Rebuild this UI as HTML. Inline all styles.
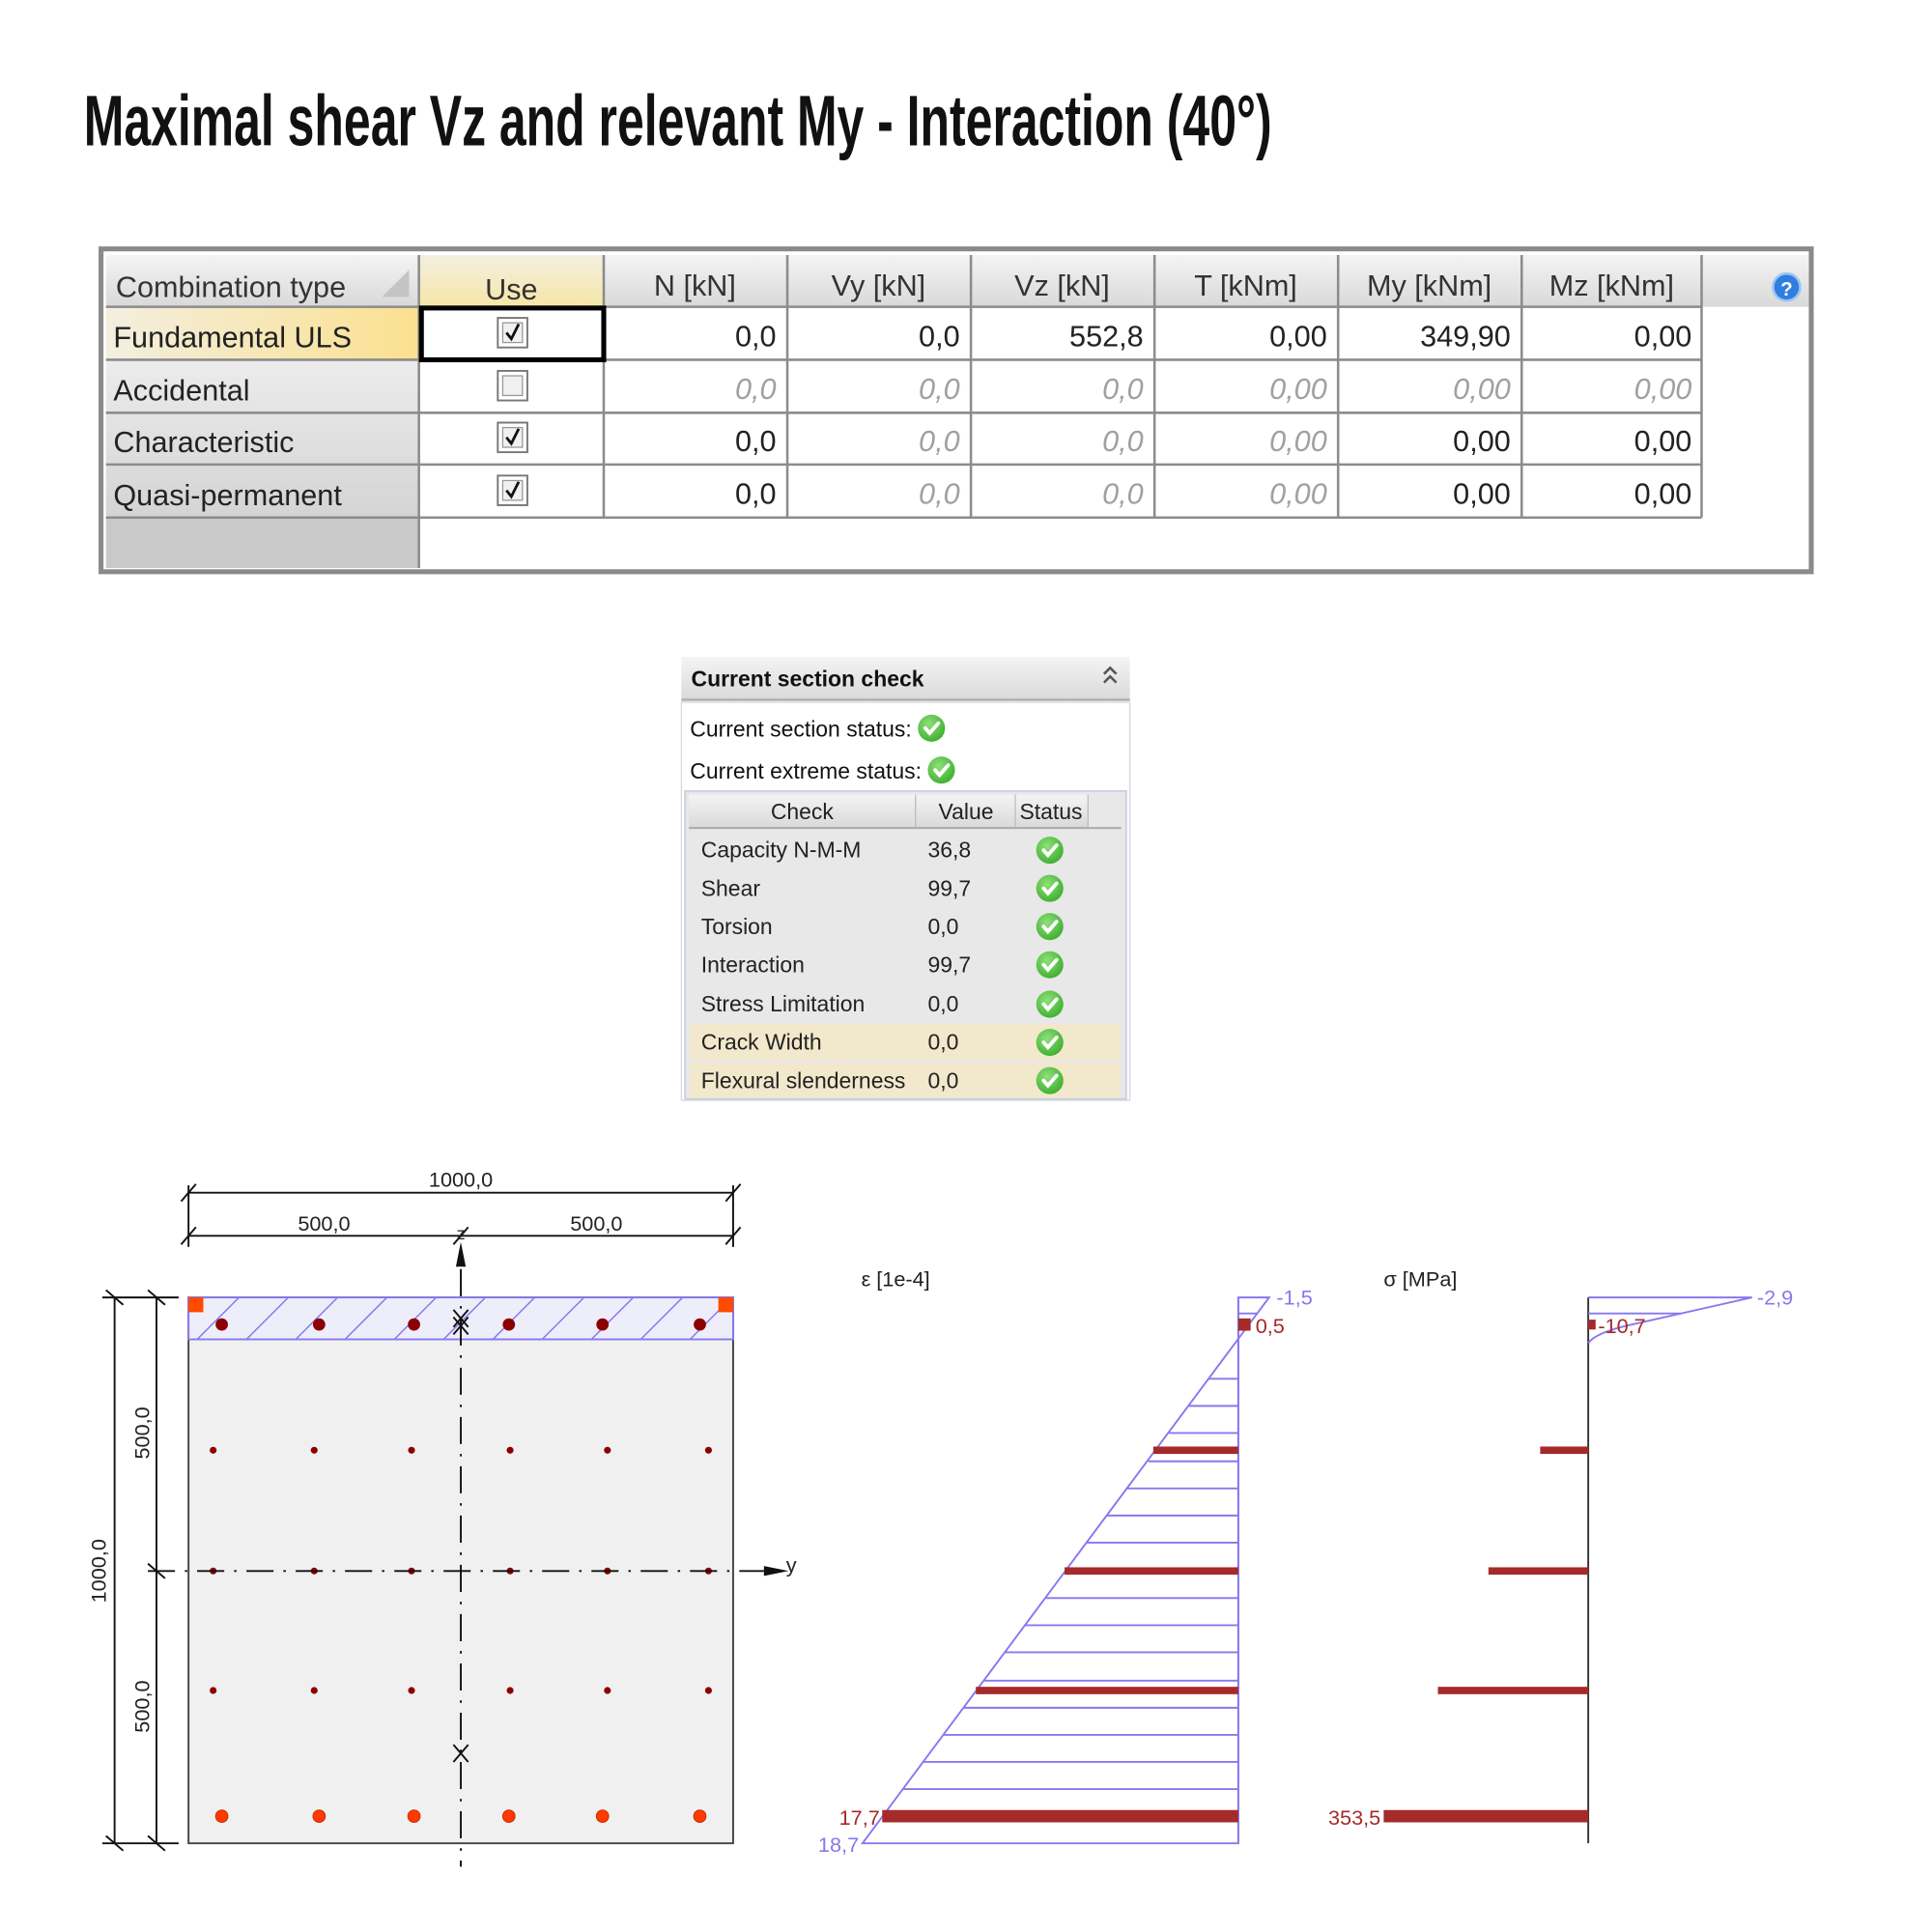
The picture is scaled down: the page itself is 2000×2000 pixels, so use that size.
<!DOCTYPE html>
<html><head><meta charset="utf-8"><style>
html,body{margin:0;padding:0;background:#fff}
svg{display:block}
</style></head><body>
<svg width="2000" height="2000" viewBox="0 0 1568 1568" xmlns="http://www.w3.org/2000/svg" font-family="Liberation Sans, sans-serif">
<defs>
<linearGradient id="hg" x1="0" y1="0" x2="0" y2="1"><stop offset="0" stop-color="#f4f4f4"/><stop offset="1" stop-color="#d9d9d9"/></linearGradient>
<linearGradient id="lg" x1="0" y1="0" x2="0" y2="1"><stop offset="0" stop-color="#ececec"/><stop offset="1" stop-color="#d4d4d4"/></linearGradient>
<linearGradient id="yg" x1="0" y1="0" x2="1" y2="0"><stop offset="0" stop-color="#f3efe0"/><stop offset="1" stop-color="#fbe08f"/></linearGradient>
<linearGradient id="ug" x1="0" y1="0" x2="0" y2="1"><stop offset="0" stop-color="#f3efe0"/><stop offset="1" stop-color="#f6e6a8"/></linearGradient>
<radialGradient id="gc" cx="0.4" cy="0.35" r="0.7"><stop offset="0" stop-color="#8fe07a"/><stop offset="1" stop-color="#3cae2e"/></radialGradient>
<g id="ok"><circle r="11" fill="url(#gc)"/><path d="M-5,0 L-1.5,4 L5.5,-4" stroke="#fff" stroke-width="3" fill="none" stroke-linecap="round"/></g>
<g id="cb"><rect x="-12" y="-12" width="24" height="24" fill="#fff" stroke="#777" stroke-width="1.5"/><rect x="-8" y="-8" width="16" height="16" fill="#f0f0f0" stroke="#999" stroke-width="1"/></g>
<g id="ck"><use href="#cb"/><path d="M-5,0 L-1,5 L5,-7" stroke="#111" stroke-width="2.2" fill="none"/></g>
</defs>

<text x="68" y="118" font-size="58" font-weight="bold" transform="translate(68,0) scale(0.675,1) translate(-68,0)" fill="#111">Maximal shear Vz and relevant My - Interaction (40°)</text>

<rect x="82" y="202" width="1388" height="262" fill="#fff" stroke="#8a8a8a" stroke-width="4"/>
<rect x="86" y="207" width="1295" height="42" fill="url(#hg)"/>
<rect x="1381" y="207" width="87" height="42" fill="url(#hg)"/>
<rect x="340" y="207" width="150" height="42" fill="url(#ug)"/>
<rect x="86" y="249" width="254" height="43" fill="url(#yg)"/>
<rect x="86" y="292" width="254" height="128" fill="url(#lg)"/>
<rect x="86" y="420" width="254" height="41" fill="#c9c9c9"/>
<path d="M310,241 L332,241 L332,219 Z" fill="#c4c4c4"/>
<g stroke="#8c8c8c" stroke-width="2" fill="none">
<line x1="86" y1="249" x2="1381" y2="249"/>
<line x1="86" y1="292" x2="1381" y2="292"/>
<line x1="86" y1="335" x2="1381" y2="335"/>
<line x1="86" y1="377" x2="1381" y2="377"/>
<line x1="86" y1="420" x2="1381" y2="420"/>
<line x1="340" y1="207" x2="340" y2="461"/>
<line x1="490" y1="207" x2="490" y2="420"/>
<line x1="639" y1="207" x2="639" y2="420"/>
<line x1="788" y1="207" x2="788" y2="420"/>
<line x1="937" y1="207" x2="937" y2="420"/>
<line x1="1086" y1="207" x2="1086" y2="420"/>
<line x1="1235" y1="207" x2="1235" y2="420"/>
<line x1="1381" y1="207" x2="1381" y2="420"/>
</g>
<rect x="342" y="250" width="148" height="42" fill="none" stroke="#000" stroke-width="4"/>
<circle cx="1450" cy="233" r="11" fill="#2f7ee0" stroke="#9cc4f2" stroke-width="2"/>
<text x="1450" y="240" font-size="16" font-weight="bold" fill="#fff" text-anchor="middle">?</text>
<g font-size="24" fill="#333">
<text x="94" y="241">Combination type</text>
<text x="415" y="243" text-anchor="middle">Use</text>
<text x="564" y="240" text-anchor="middle">N [kN]</text>
<text x="713" y="240" text-anchor="middle">Vy [kN]</text>
<text x="862" y="240" text-anchor="middle">Vz [kN]</text>
<text x="1011" y="240" text-anchor="middle">T [kNm]</text>
<text x="1160" y="240" text-anchor="middle">My [kNm]</text>
<text x="1308" y="240" text-anchor="middle">Mz [kNm]</text>
</g>
<g font-size="24" fill="#222">
<text x="92" y="282">Fundamental ULS</text>
<text x="92" y="325">Accidental</text>
<text x="92" y="367">Characteristic</text>
<text x="92" y="410">Quasi-permanent</text>
</g>
<use href="#ck" x="416" y="270"/>
<use href="#cb" x="416" y="313"/>
<use href="#ck" x="416" y="355"/>
<use href="#ck" x="416" y="398"/>
<g font-size="24" text-anchor="end" fill="#222">
<text x="630" y="281">0,0</text><text x="779" y="281">0,0</text><text x="928" y="281">552,8</text><text x="1077" y="281">0,00</text><text x="1226" y="281">349,90</text><text x="1373" y="281">0,00</text>
<text x="630" y="366">0,0</text><text x="1226" y="366">0,00</text><text x="1373" y="366">0,00</text>
<text x="630" y="409">0,0</text><text x="1226" y="409">0,00</text><text x="1373" y="409">0,00</text>
</g>
<g font-size="24" text-anchor="end" fill="#a0a0a0" font-style="italic">
<text x="630" y="324">0,0</text><text x="779" y="324">0,0</text><text x="928" y="324">0,0</text><text x="1077" y="324">0,00</text><text x="1226" y="324">0,00</text><text x="1373" y="324">0,00</text>
<text x="779" y="366">0,0</text><text x="928" y="366">0,0</text><text x="1077" y="366">0,00</text>
<text x="779" y="409">0,0</text><text x="928" y="409">0,0</text><text x="1077" y="409">0,00</text>
</g>

<rect x="553" y="533" width="364" height="35" fill="url(#hg)"/>
<line x1="553" y1="568" x2="917" y2="568" stroke="#b0b0b0" stroke-width="2"/>
<text x="561" y="557" font-size="18" font-weight="bold" fill="#111">Current section check</text>
<path d="M896,547 L901,542 L906,547 M896,554 L901,549 L906,554" stroke="#555" stroke-width="2" fill="none"/>
<rect x="553" y="570" width="364" height="323" fill="#fff" stroke="#d8d8d8" stroke-width="1"/>
<text x="560" y="598" font-size="18" fill="#111">Current section status:</text>
<use href="#ok" x="756" y="591"/>
<text x="560" y="632" font-size="18" fill="#111">Current extreme status:</text>
<use href="#ok" x="764" y="625"/>
<rect x="556" y="642" width="358" height="250" fill="#e8e8e8" stroke="#c8d2e0" stroke-width="1.5"/>
<rect x="559" y="645" width="324" height="27" fill="url(#hg)"/>
<line x1="559" y1="672" x2="910" y2="672" stroke="#aaa" stroke-width="1.5"/>
<line x1="743" y1="645" x2="743" y2="672" stroke="#bbb"/>
<line x1="824" y1="645" x2="824" y2="672" stroke="#bbb"/>
<line x1="883" y1="645" x2="883" y2="672" stroke="#bbb"/>
<g font-size="18" fill="#222">
<text x="651" y="665" text-anchor="middle">Check</text>
<text x="784" y="665" text-anchor="middle">Value</text>
<text x="853" y="665" text-anchor="middle">Status</text>
</g>
<rect x="560" y="831" width="349" height="29" fill="#f2e8cb"/>
<rect x="560" y="862" width="349" height="29" fill="#f2e8cb"/>
<g font-size="18" fill="#222">
<text x="569" y="696">Capacity N-M-M</text><text x="753" y="696">36,8</text>
<text x="569" y="727">Shear</text><text x="753" y="727">99,7</text>
<text x="569" y="758">Torsion</text><text x="753" y="758">0,0</text>
<text x="569" y="789">Interaction</text><text x="753" y="789">99,7</text>
<text x="569" y="821">Stress Limitation</text><text x="753" y="821">0,0</text>
<text x="569" y="852">Crack Width</text><text x="753" y="852">0,0</text>
<text x="569" y="883">Flexural slenderness</text><text x="753" y="883">0,0</text>
</g>
<use href="#ok" x="852" y="690"/><use href="#ok" x="852" y="721"/><use href="#ok" x="852" y="752"/><use href="#ok" x="852" y="783"/><use href="#ok" x="852" y="815"/><use href="#ok" x="852" y="846"/><use href="#ok" x="852" y="877"/>

<rect x="153" y="1053" width="442" height="443" fill="#f0f0f0" stroke="#444" stroke-width="1.5"/>
<rect x="153" y="1053" width="442" height="34" fill="#eeeefa" stroke="#8878ee" stroke-width="1.5"/>
<g stroke="#8878ee" stroke-width="1.2">
<line x1="160" y1="1087" x2="194" y2="1053"/><line x1="200" y1="1087" x2="234" y2="1053"/><line x1="240" y1="1087" x2="274" y2="1053"/><line x1="280" y1="1087" x2="314" y2="1053"/><line x1="320" y1="1087" x2="354" y2="1053"/><line x1="360" y1="1087" x2="394" y2="1053"/><line x1="400" y1="1087" x2="434" y2="1053"/><line x1="440" y1="1087" x2="474" y2="1053"/><line x1="480" y1="1087" x2="514" y2="1053"/><line x1="520" y1="1087" x2="554" y2="1053"/><line x1="560" y1="1087" x2="594" y2="1053"/>
</g>
<rect x="153" y="1053" width="12" height="12" fill="#ff4a00"/>
<rect x="583" y="1053" width="12" height="12" fill="#ff4a00"/>
<g fill="#8b0000">
<circle cx="180" cy="1075" r="5"/><circle cx="259" cy="1075" r="5"/><circle cx="336" cy="1075" r="5"/><circle cx="413" cy="1075" r="5"/><circle cx="489" cy="1075" r="5"/><circle cx="568" cy="1075" r="5"/>
<circle cx="173" cy="1177" r="2.8"/><circle cx="255" cy="1177" r="2.8"/><circle cx="334" cy="1177" r="2.8"/><circle cx="414" cy="1177" r="2.8"/><circle cx="493" cy="1177" r="2.8"/><circle cx="575" cy="1177" r="2.8"/>
<circle cx="173" cy="1275" r="2.8"/><circle cx="255" cy="1275" r="2.8"/><circle cx="334" cy="1275" r="2.8"/><circle cx="414" cy="1275" r="2.8"/><circle cx="493" cy="1275" r="2.8"/><circle cx="575" cy="1275" r="2.8"/>
<circle cx="173" cy="1372" r="2.8"/><circle cx="255" cy="1372" r="2.8"/><circle cx="334" cy="1372" r="2.8"/><circle cx="414" cy="1372" r="2.8"/><circle cx="493" cy="1372" r="2.8"/><circle cx="575" cy="1372" r="2.8"/>
</g>
<g fill="#ff3a00" stroke="#c83000" stroke-width="0.8">
<circle cx="180" cy="1474" r="5"/><circle cx="259" cy="1474" r="5"/><circle cx="336" cy="1474" r="5"/><circle cx="413" cy="1474" r="5"/><circle cx="489" cy="1474" r="5"/><circle cx="568" cy="1474" r="5"/>
</g>
<g stroke="#111" stroke-width="1.5" fill="none">
<line x1="374" y1="1030" x2="374" y2="1515" stroke-dasharray="22,8,2,8"/>
<line x1="120" y1="1275" x2="620" y2="1275" stroke-dasharray="22,8,2,8"/>
<line x1="368" y1="1063" x2="380" y2="1077"/><line x1="380" y1="1063" x2="368" y2="1077"/>
<line x1="368" y1="1069" x2="380" y2="1083"/><line x1="380" y1="1069" x2="368" y2="1083"/>
<line x1="368" y1="1416" x2="380" y2="1430"/><line x1="380" y1="1416" x2="368" y2="1430"/>
<line x1="153" y1="968" x2="595" y2="968"/>
<line x1="153" y1="1003" x2="595" y2="1003"/>
<line x1="153" y1="962" x2="153" y2="1012"/><line x1="595" y1="962" x2="595" y2="1012"/>
<line x1="147" y1="975" x2="159" y2="961"/><line x1="589" y1="975" x2="601" y2="961"/>
<line x1="147" y1="1010" x2="159" y2="996"/><line x1="368" y1="1010" x2="380" y2="996"/><line x1="589" y1="1010" x2="601" y2="996"/>
<line x1="93" y1="1053" x2="93" y2="1496"/>
<line x1="127" y1="1053" x2="127" y2="1496"/>
<line x1="83" y1="1053" x2="145" y2="1053"/>
<line x1="83" y1="1496" x2="145" y2="1496"/>
<line x1="86" y1="1047" x2="100" y2="1059"/><line x1="120" y1="1047" x2="134" y2="1059"/>
<line x1="86" y1="1490" x2="100" y2="1502"/><line x1="120" y1="1490" x2="134" y2="1502"/>
<line x1="120" y1="1269" x2="134" y2="1281"/>
</g>
<path d="M374,1008 L370,1028 L378,1028 Z" fill="#111"/>
<path d="M640,1275 L620,1271 L620,1279 Z" fill="#111"/>
<g font-size="17" fill="#222">
<text x="374" y="963" text-anchor="middle">1000,0</text>
<text x="263" y="999" text-anchor="middle">500,0</text>
<text x="484" y="999" text-anchor="middle">500,0</text>
<text x="374" y="1006" text-anchor="middle" font-size="14">z</text>
<text x="638" y="1276" font-size="17">y</text>
<text transform="translate(86,1275) rotate(-90)" text-anchor="middle">1000,0</text>
<text transform="translate(121,1163) rotate(-90)" text-anchor="middle">500,0</text>
<text transform="translate(121,1385) rotate(-90)" text-anchor="middle">500,0</text>
</g>

<text x="699" y="1044" font-size="17" fill="#222">ε [1e-4]</text>
<g stroke="#8878ee" stroke-width="1.5" fill="none">
<path d="M1005,1053 L1030,1053 L700,1496 L1005,1496 Z"/>
<line x1="1005" y1="1053" x2="1005" y2="1496"/>
<line x1="1005" y1="1066" x2="1020" y2="1066"/>
<line x1="1005" y1="1119" x2="981" y2="1119"/>
<line x1="1005" y1="1141" x2="965" y2="1141"/>
<line x1="1005" y1="1163" x2="949" y2="1163"/>
<line x1="1005" y1="1186" x2="932" y2="1186"/>
<line x1="1005" y1="1208" x2="915" y2="1208"/>
<line x1="1005" y1="1230" x2="898" y2="1230"/>
<line x1="1005" y1="1252" x2="882" y2="1252"/>
<line x1="1005" y1="1297" x2="849" y2="1297"/>
<line x1="1005" y1="1319" x2="832" y2="1319"/>
<line x1="1005" y1="1341" x2="816" y2="1341"/>
<line x1="1005" y1="1364" x2="799" y2="1364"/>
<line x1="1005" y1="1386" x2="782" y2="1386"/>
<line x1="1005" y1="1408" x2="766" y2="1408"/>
<line x1="1005" y1="1430" x2="749" y2="1430"/>
<line x1="1005" y1="1452" x2="733" y2="1452"/>
</g>
<g fill="#a52a2a">
<rect x="1005" y="1070" width="10" height="10"/>
<rect x="936" y="1174" width="69" height="6"/>
<rect x="864" y="1272" width="141" height="6"/>
<rect x="792" y="1369" width="213" height="6"/>
<rect x="716" y="1469" width="289" height="10"/>
</g>
<g font-size="17">
<text x="1036" y="1059" fill="#8878ee">-1,5</text>
<text x="1019" y="1082" fill="#a52a2a">0,5</text>
<text x="681" y="1481" fill="#a52a2a">17,7</text>
<text x="664" y="1503" fill="#8878ee">18,7</text>
</g>

<text x="1123" y="1044" font-size="17" fill="#222">σ [MPa]</text>
<line x1="1289" y1="1053" x2="1289" y2="1496" stroke="#333" stroke-width="1.5"/>
<g stroke="#8878ee" stroke-width="1.5" fill="none">
<path d="M1289,1053 L1422,1053 L1320,1076 Q1295,1082 1289,1090"/>
<line x1="1289" y1="1066" x2="1365" y2="1066"/>
</g>
<g fill="#a52a2a">
<rect x="1289" y="1071" width="6" height="8"/>
<rect x="1250" y="1174" width="39" height="6"/>
<rect x="1208" y="1272" width="81" height="6"/>
<rect x="1167" y="1369" width="122" height="6"/>
<rect x="1123" y="1469" width="166" height="10"/>
</g>
<g font-size="17">
<text x="1426" y="1059" fill="#8878ee">-2,9</text>
<text x="1297" y="1082" fill="#a52a2a">-10,7</text>
<text x="1078" y="1481" fill="#a52a2a">353,5</text>
</g>
</svg>
</body></html>
